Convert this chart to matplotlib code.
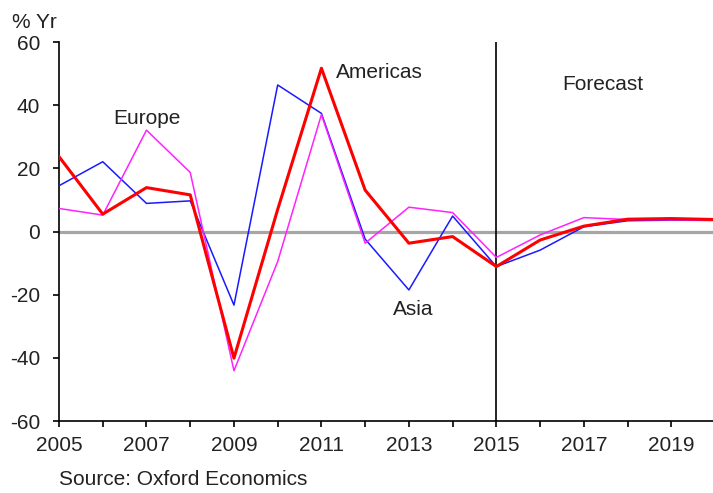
import matplotlib.pyplot as plt

plt.rcParams['font.family'] = ['Liberation Sans', 'DejaVu Sans']
plt.rcParams['axes.unicode_minus'] = False

years = list(range(2005, 2021))
americas = [23.7, 5.5, 13.9, 11.6, -40.1, 7.0, 51.7, 13.1, -3.7, -1.6, -11.1, -2.7, 1.7, 3.9, 4.1, 3.8]
asia = [14.5, 22.1, 8.9, 9.7, -23.3, 46.4, 37.4, -2.4, -18.5, 4.9, -11.1, -5.9, 1.5, 3.4, 3.6, 3.5]
europe = [7.3, 5.2, 32.1, 18.7, -44.1, -9.5, 37.0, -3.7, 7.7, 6.0, -8.2, -1.1, 4.4, 3.8, 3.7, 3.6]

yticks = [-60, -40, -20, 0, 20, 40, 60]
xlabels = [2005, 2007, 2009, 2011, 2013, 2015, 2017, 2019]

fig = plt.figure(figsize=(7.13, 4.93), dpi=100)
ax = fig.add_axes([0.0828, 0.146, 0.92, 0.7688])

ax.axhline(0, color='#a6a6a6', lw=2.3, zorder=1)
ax.axvline(2015, color='black', lw=1.2, zorder=1)

ax.plot(years, asia, color='#1a1aff', lw=1.1, zorder=3)
ax.plot(years, europe, color='#ff22ff', lw=1.1, zorder=3)
ax.plot(years, americas, color='#ff0000', lw=2.2, zorder=4)

ax.set_xlim(2005, 2020)
ax.set_ylim(-60, 60)
ax.set_yticks(yticks)
ax.set_xticks(years)
ax.set_xticklabels([str(y) if y in xlabels else '' for y in years])

for s in ['top', 'right']:
    ax.spines[s].set_visible(False)
for s in ['left', 'bottom']:
    ax.spines[s].set_linewidth(1.2)
    ax.spines[s].set_color('black')

ax.tick_params(axis='both', direction='out', length=4.5, width=1.2, labelsize=15,
               colors='black', labelcolor='#222222')
ax.tick_params(axis='x', pad=6)
ax.tick_params(axis='y', pad=9)

tc = '#222222'
fs = 15
ax.text(2007.02, 35.8, 'Europe', fontsize=fs, color=tc, ha='center', va='center')
ax.text(2011.34, 50.3, 'Americas', fontsize=fs, color=tc, ha='left', va='center')
ax.text(2017.43, 46.4, 'Forecast', fontsize=fs, color=tc, ha='center', va='center')
ax.text(2013.09, -24.7, 'Asia', fontsize=fs, color=tc, ha='center', va='center')

fig.text(0.017, 0.955, '% Yr', fontsize=fs, color=tc, ha='left', va='center')
fig.text(0.083, 0.008, 'Source: Oxford Economics', fontsize=fs, color=tc, ha='left', va='bottom')

fig.savefig('out.png', dpi=100)
